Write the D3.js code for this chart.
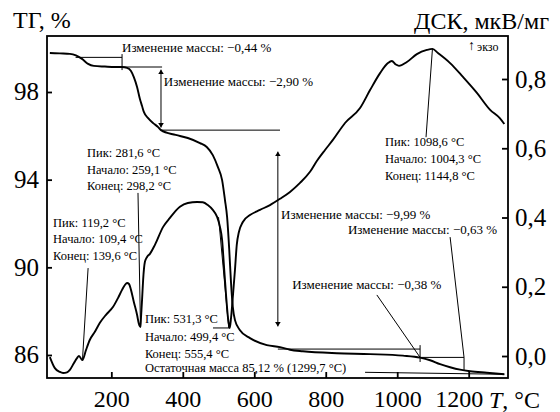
<!DOCTYPE html>
<html><head><meta charset="utf-8">
<script src="https://cdn.jsdelivr.net/npm/d3@7"></script>
<style>
html,body{margin:0;padding:0;background:#fff}
svg{display:block}
</style>
</head><body>
<svg id="chart" width="560" height="412"></svg>
<script>
// ТГ: temperature (°C) and remaining mass (%)
const tgTemp = [28, 56, 84, 101, 118, 135, 151, 182, 210, 230, 244, 255, 263, 272, 280, 286, 291, 303, 317, 331, 339, 380, 414, 448, 467, 484, 498, 510, 518, 524, 530, 535, 540, 546, 560, 588, 635, 672, 700, 736, 831, 924, 1016, 1064, 1092, 1120, 1148, 1176, 1204, 1251, 1299.7];
const tgMass = [99.78, 99.76, 99.74, 99.67, 99.51, 99.28, 99.19, 99.16, 99.14, 99.14, 99.10, 98.96, 98.68, 98.23, 97.68, 97.36, 97.09, 96.81, 96.58, 96.40, 96.26, 96.04, 95.90, 95.67, 95.49, 95.12, 94.58, 93.98, 93.07, 92.29, 90.79, 89.28, 88.18, 87.59, 87.13, 86.77, 86.45, 86.36, 86.24, 86.17, 86.08, 86.04, 85.97, 85.88, 85.76, 85.58, 85.44, 85.33, 85.26, 85.19, 85.12];

// ДСК: temperature (°C) and heat-flow signal (мкВ/мг)
const dscTemp = [28, 42, 56, 65, 76, 84, 95.5, 104, 109.5, 119.2, 129, 140, 154, 168, 185, 205, 219, 230, 238, 244, 249.5, 255, 263, 272, 277, 281.6, 283, 286, 289, 294, 300, 308, 322, 345, 364, 392, 414, 440, 456, 470, 484, 496, 504, 510, 515, 521, 526.5, 531.3, 535, 540.5, 546, 551, 557, 568, 588, 616, 644, 672, 700, 728, 756, 775, 798, 820, 854, 896, 924, 952, 974, 985, 996, 1005, 1027, 1055, 1083, 1098.6, 1114, 1148, 1184, 1223, 1260, 1287, 1299.7];
const dscSignal = [-0.003, -0.035, -0.046, -0.049, -0.047, -0.040, -0.020, -0.006, 0.000, -0.012, 0.017, 0.047, 0.070, 0.096, 0.119, 0.142, 0.168, 0.191, 0.205, 0.211, 0.208, 0.191, 0.156, 0.119, 0.093, 0.084, 0.110, 0.162, 0.220, 0.272, 0.286, 0.295, 0.321, 0.373, 0.399, 0.431, 0.442, 0.445, 0.444, 0.436, 0.422, 0.402, 0.373, 0.335, 0.263, 0.177, 0.110, 0.081, 0.110, 0.177, 0.249, 0.321, 0.358, 0.387, 0.407, 0.422, 0.436, 0.454, 0.474, 0.500, 0.532, 0.563, 0.595, 0.624, 0.673, 0.716, 0.768, 0.817, 0.846, 0.852, 0.842, 0.838, 0.849, 0.872, 0.884, 0.887, 0.875, 0.846, 0.806, 0.760, 0.711, 0.687, 0.670];

// Axis ticks
const tempTicks = [200, 400, 600, 800, 1000, 1200];
const tgTicks = [86, 90, 94, 98];
const dscTicks = [0, 0.2, 0.4, 0.6, 0.8];

// Mass-change steps: levels (%) between which each step is measured
const massLevels = [99.58, 99.14, 96.26, 86.27, 85.89, 85.26];
const massSteps = ["−0,44", "−2,90", "−9,99", "−0,38", "−0,63"];
const residual = {mass: "85,12", temp: "1299,7", value: 85.12, at: 1299.7};

// DSC peak characteristics: peak, onset, end (°C)
const dscPeaks = [
  {peak: "119,2", onset: "109,4", end: "139,6", t: 119.2, v: -0.012},
  {peak: "281,6", onset: "259,1", end: "298,2", t: 281.6, v: 0.084},
  {peak: "531,3", onset: "499,4", end: "555,4", t: 531.3, v: 0.081},
  {peak: "1098,6", onset: "1004,3", end: "1144,8", t: 1098.6, v: 0.887}
];

const FONT = "'Times New Roman', Times, 'Liberation Serif', 'DejaVu Serif', serif";
const svg = d3.select("#chart");
const L = 47, R = 508, T = 36, B = 378;

const x = d3.scaleLinear().domain([20, 1310]).range([L, R]);
const yTG = d3.scaleLinear().domain([84.95, 100.555]).range([B, T]);
const yDSC = d3.scaleLinear().domain([-0.0635, 0.9242]).range([B, T]);

const comma = d => d.toFixed(1).replace(".", ",");

// arrowhead for double arrows
svg.append("defs").append("marker")
  .attr("id", "ah").attr("viewBox", "0 0 8 10").attr("refX", 8).attr("refY", 5)
  .attr("markerWidth", 4.5).attr("markerHeight", 6).attr("orient", "auto-start-reverse")
  .append("path").attr("d", "M0,0L8,5L0,10Z").attr("fill", "#000");

// axes
const gL = svg.append("g").attr("transform", `translate(${L},0)`)
  .call(d3.axisLeft(yTG).tickValues(tgTicks).tickSize(-5).tickPadding(8).tickFormat(d3.format("d")));
const gR = svg.append("g").attr("transform", `translate(${R},0)`)
  .call(d3.axisRight(yDSC).tickValues(dscTicks).tickSize(-6).tickPadding(7).tickFormat(comma));
const gB = svg.append("g").attr("transform", `translate(0,${B})`)
  .call(d3.axisBottom(x).tickValues(tempTicks).tickSize(-6).tickPadding(12).tickFormat(d3.format("d")));
[[gL, 25], [gR, 25], [gB, 24]].forEach(([g, fs]) => {
  g.attr("font-family", FONT).attr("font-size", fs);
  g.select(".domain").remove();
  g.selectAll("line").attr("stroke", "#000").attr("stroke-width", 1.8);
  g.selectAll("text").attr("fill", "#000");
});
gB.selectAll(".tick").filter(d => d === 1200).select("text").attr("dx", -10);

svg.append("rect").attr("x", L).attr("y", T).attr("width", R - L).attr("height", B - T)
  .attr("fill", "none").attr("stroke", "#000").attr("stroke-width", 1.8);

const txt = (px, py, size) => svg.append("text").attr("x", px).attr("y", py)
  .attr("font-family", FONT).attr("font-size", size).attr("fill", "#000");

// axis titles
txt(13, 28, 24).text("ТГ, %");
txt(549, 29, 24).attr("text-anchor", "end").text("ДСК, мкВ/мг");
const tt = txt(489, 408, 24);
tt.append("tspan").attr("font-style", "italic").text("T");
tt.append("tspan").text(", °C");

// exo direction
txt(468, 50, 14).text("↑");
txt(477, 51, 12).text("экзо");

// curves
const tgLine = d3.line().x((d, i) => x(tgTemp[i])).y(d => yTG(d)).curve(d3.curveMonotoneX);
const dscLine = d3.line().x((d, i) => x(dscTemp[i])).y(d => yDSC(d)).curve(d3.curveMonotoneX);
svg.append("path").attr("d", tgLine(tgMass)).attr("fill", "none").attr("stroke", "#000").attr("stroke-width", 1.9);
svg.append("path").attr("d", dscLine(dscSignal)).attr("fill", "none").attr("stroke", "#000").attr("stroke-width", 1.9);

// annotation helpers
const thin = (pts, scale, arrows) => {
  const p = svg.append("path")
    .attr("d", d3.line().x(d => x(d[0])).y(d => scale(d[1]))(pts))
    .attr("fill", "none").attr("stroke", "#000").attr("stroke-width", 1);
  if (arrows) p.attr("marker-start", "url(#ah)").attr("marker-end", "url(#ah)");
};
const label = (t, v, scale, str, size) => txt(x(t), scale(v), size || 13).text(str);

// mass-change constructions (ТГ scale)
thin([[100, massLevels[0]], [230, massLevels[0]]], yTG);
thin([[230, 99.73], [230, 99.0]], yTG);
thin([[230, massLevels[1]], [342, massLevels[1]]], yTG);
thin([[339, 99.02], [339, 96.38]], yTG, true);
thin([[339, massLevels[2]], [672, massLevels[2]]], yTG);
thin([[666, 95.28], [666, 87.30]], yTG, true);
thin([[666, massLevels[3]], [1064, massLevels[3]]], yTG);
thin([[1064, 86.45], [1064, 85.68]], yTG);
thin([[1064, massLevels[4]], [1187, massLevels[4]]], yTG);
thin([[1187, massLevels[4]], [1187, 85.30]], yTG);
thin([[943, 88.74], [1064, massLevels[4]]], yTG);
thin([[1148, 91.38], [1187, massLevels[4]]], yTG);
thin([[910, 85.21], [residual.at, residual.value]], yTG);

label(230, 99.82, yTG, `Изменение массы: ${massSteps[0]} %`);
label(347, 98.27, yTG, `Изменение массы: ${massSteps[1]} %`);
label(675, 92.21, yTG, `Изменение массы: ${massSteps[2]} %`);
label(706, 89.01, yTG, `Изменение массы: ${massSteps[3]} %`);
label(862, 91.52, yTG, `Изменение массы: ${massSteps[4]} %`);

// DSC peak constructions
thin([[135, 0.254], [dscPeaks[0].t, dscPeaks[0].v]], yDSC);
thin([[274.6, 0.471], [dscPeaks[1].t, dscPeaks[1].v]], yDSC);
thin([[484.5, dscPeaks[2].v], [dscPeaks[2].t, dscPeaks[2].v]], yDSC);
thin([[500, 0.401], [528.5, dscPeaks[2].v]], yDSC);
thin([[1080.6, 0.632], [dscPeaks[3].t, dscPeaks[3].v]], yDSC);

// peak text blocks: anchor temperature and first baseline (DSC units)
const blocks = [
  {t: 37, v: 0.3726, step: 16.5},
  {t: 132, v: 0.574, step: 16.5},
  {t: 294, v: 0.095, step: 17.5},
  {t: 966, v: 0.607, step: 17}
];
dscPeaks.forEach((p, i) => {
  const b = blocks[i];
  const y0 = yDSC(b.v);
  const lines = [`Пик: ${p.peak} °C`, `Начало: ${p.onset} °C`, `Конец: ${p.end} °C`];
  lines.forEach((s, k) => txt(x(b.t), y0 + k * b.step, 12.5).text(s));
});
txt(x(294), yTG(85.23), 12.5).text(`Остаточная масса ${residual.mass} % (${residual.temp} °C)`);
</script>
</body></html>
